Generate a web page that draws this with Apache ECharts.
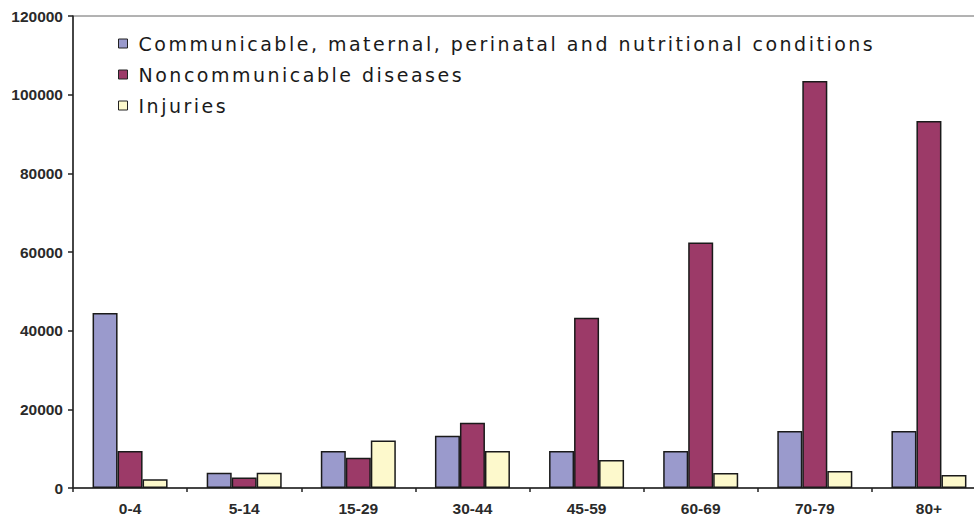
<!DOCTYPE html>
<html>
<head>
<meta charset="utf-8">
<title>Deaths by age group and cause</title>
<script src="https://cdn.jsdelivr.net/npm/echarts@6/dist/echarts.min.js"></script>
<style>
  html, body { margin: 0; padding: 0; background: #ffffff; overflow: hidden; }
  /* the plot runs slightly past the right edge of the window, so the last group is clipped */
  #chart { width: 986px; height: 516px; }
</style>
</head>
<body>
<div id="chart"></div>
<script>
// Age groups along the x axis
const ageGroups = ['0-4', '5-14', '15-29', '30-44', '45-59', '60-69', '70-79', '80+'];

// Deaths per age group for each cause group
const communicable = [44500, 3900, 9400, 13300, 9400, 9400, 14500, 14500];
const noncommunicable = [9400, 2700, 7700, 16600, 43300, 62400, 103500, 93300];
const injuries = [2200, 3900, 12100, 9400, 7100, 3800, 4300, 3300];

// Value axis ticks
const yTicks = [0, 20000, 40000, 60000, 80000, 100000, 120000];

const seriesNames = [
  'Communicable, maternal, perinatal and nutritional conditions',
  'Noncommunicable diseases',
  'Injuries'
];
const seriesColors = ['#9a9acc', '#9c3a68', '#fdf9cc'];
const seriesData = [communicable, noncommunicable, injuries];

const chart = echarts.init(document.getElementById('chart'), null, { renderer: 'svg' });

const axisFont = {
  fontFamily: 'Liberation Sans, Arial, sans-serif',
  fontWeight: 'bold',
  fontSize: 15.5,
  color: '#2a2a2a'
};

// the legend entries are set with wide letter spacing
function spaceOutLegend() {
  document.querySelectorAll('#chart text').forEach(t => {
    if (seriesNames.indexOf(t.textContent) >= 0) {
      t.style.letterSpacing = '2.5px';
    }
  });
}
chart.on('finished', spaceOutLegend);

chart.setOption({
  animation: false,
  backgroundColor: '#ffffff',
  grid: {
    left: 73,
    top: 16,
    right: 0,
    height: 473,
    show: true,
    borderColor: '#666666',
    borderWidth: 1,
    containLabel: false
  },
  legend: {
    orient: 'vertical',
    left: 113,
    top: 29,
    itemGap: 12,
    itemWidth: 9,
    itemHeight: 9,
    icon: 'rect',
    itemStyle: { borderColor: '#222222', borderWidth: 1 },
    textStyle: {
      fontFamily: 'DejaVu Sans, Verdana, sans-serif',
      fontSize: 19,
      color: '#1a1a1a',
      padding: [0, 0, 0, 6]
    },
    data: seriesNames
  },
  xAxis: {
    type: 'category',
    data: ageGroups,
    axisLine: { lineStyle: { color: '#222222', width: 1.5 } },
    axisTick: { show: true, length: 4, lineStyle: { color: '#222222', width: 1.5 } },
    axisLabel: Object.assign({ margin: 12 }, axisFont),
    splitLine: { show: false }
  },
  yAxis: {
    type: 'value',
    min: yTicks[0],
    max: yTicks[yTicks.length - 1],
    interval: yTicks[1] - yTicks[0],
    axisLine: { show: true, lineStyle: { color: '#222222', width: 1.5 } },
    axisTick: { show: true, length: 5, lineStyle: { color: '#222222', width: 1.5 } },
    axisLabel: Object.assign({ margin: 10, formatter: v => String(v) }, axisFont),
    splitLine: { show: false }
  },
  series: seriesNames.map((name, i) => ({
    name: name,
    type: 'bar',
    data: seriesData[i],
    barWidth: 25,
    barGap: '0%',
    itemStyle: {
      color: seriesColors[i],
      borderColor: '#1a1a1a',
      borderWidth: 1.5
    }
  }))
});
spaceOutLegend();
</script>
</body>
</html>
